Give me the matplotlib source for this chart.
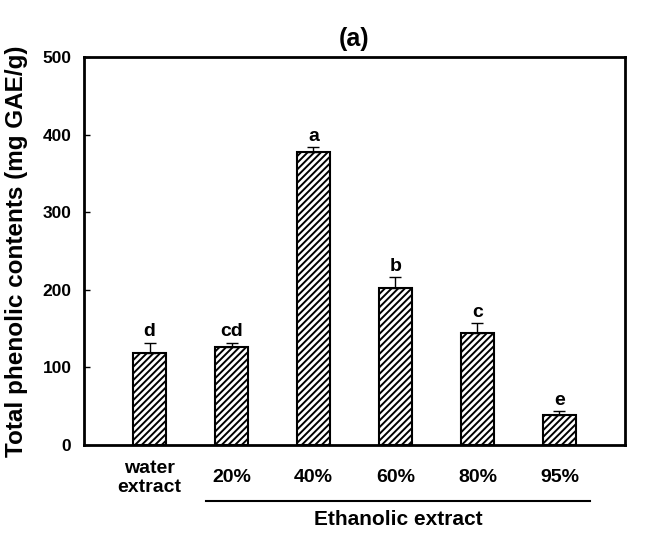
import numpy as np
from matplotlib import pyplot as plt

plt.rcParams['font.family'] = ['Liberation Sans', 'DejaVu Sans']
plt.rcParams['font.weight'] = 'bold'
plt.rcParams['hatch.linewidth'] = 1.4

# data
categories = ["water\nextract", "20%", "40%", "60%", "80%", "95%"]
values = [119, 126, 377, 202, 144, 39]
errors = [13, 6, 7, 14, 13, 5]
letters = ["d", "cd", "a", "b", "c", "e"]
y_ticks = [0, 100, 200, 300, 400, 500]

x = np.arange(len(categories))

fig = plt.figure(figsize=(6.55, 5.35), dpi=100)
ax = fig.add_axes([0.1282, 0.1682, 0.8260, 0.7253])

ax.bar(x, values, width=0.4, color='white', edgecolor='black',
       linewidth=1.5, hatch='/////', zorder=2)
ax.errorbar(x, values, yerr=[np.zeros(len(values)), errors], fmt='none',
            ecolor='black', elinewidth=1.0, capsize=4.5, capthick=1.0, zorder=3)

for xi, v, e, lab in zip(x, values, errors, letters):
    ax.text(xi, v + e + 3, lab, ha='center', va='bottom', fontsize=14,
            fontweight='bold')

ax.set_xlim(-0.8, 5.8)
ax.set_ylim(0, 500)
ax.set_yticks(y_ticks)
ax.tick_params(axis='y', direction='in', length=4, width=1, pad=9,
               labelsize=12.5)
ax.set_xticks([])
for sp in ax.spines.values():
    sp.set_linewidth(2)

# category labels under the axis
trans = ax.get_xaxis_transform()
for xi, lab in zip(x, categories):
    ax.text(xi, -0.085, lab, transform=trans, ha='center', va='center',
            fontsize=14, fontweight='bold', linespacing=1.2)

ax.plot([0.69, 5.37], [-0.1436, -0.1436], transform=trans, color='black',
        linewidth=1.5, clip_on=False)
ax.text(3.03, -0.193, "Ethanolic extract", transform=trans, ha='center',
        va='center', fontsize=15, fontweight='bold')

ax.set_ylabel("Total phenolic contents (mg GAE/g)", fontsize=17.5,
              fontweight='bold')
ax.yaxis.set_label_coords(-0.104, 0.5)
ax.set_title("(a)", fontsize=18, fontweight='bold', pad=8)

fig.savefig("out.png", dpi=100)
